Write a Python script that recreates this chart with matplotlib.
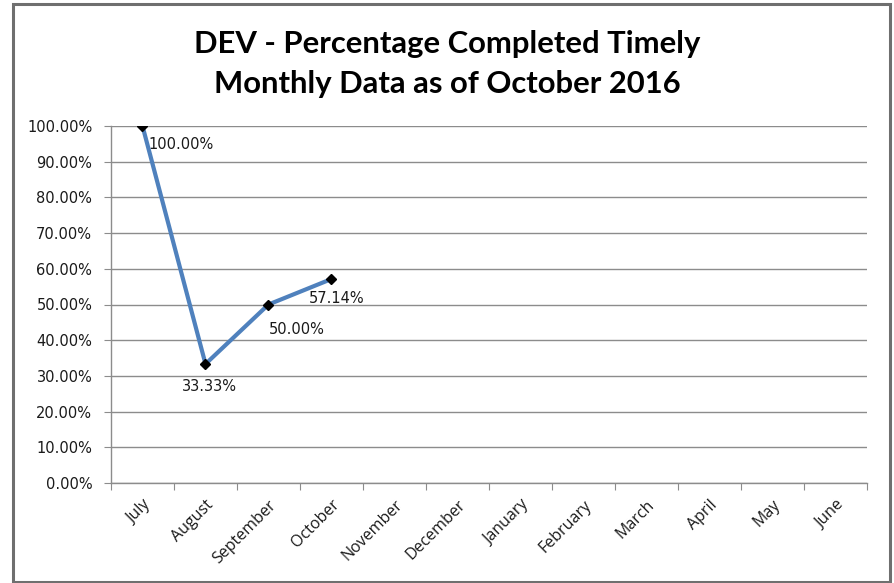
import matplotlib
matplotlib.use("Agg")
import matplotlib.pyplot as plt
import matplotlib.patches as mpatches
import numpy as np

months = ["July", "August", "September", "October", "November", "December",
          "January", "February", "March", "April", "May", "June"]
values = [1.0, 0.3333, 0.5, 0.5714]
value_labels = ["100.00%", "33.33%", "50.00%", "57.14%"]
yticks = [0.0, 0.1, 0.2, 0.3, 0.4, 0.5, 0.6, 0.7, 0.8, 0.9, 1.0]
title = "DEV - Percentage Completed Timely\nMonthly Data as of October 2016"

W, H = 895, 583
fig = plt.figure(figsize=(W / 100, H / 100), dpi=100)
ax = fig.add_axes([111 / W, 1 - 483 / H, (867 - 111) / W, (483 - 126) / H])

# outer chart frame
fig.patches.append(mpatches.Rectangle((13 / W, 1 - 582 / H), (890 - 13) / W, (582 - 4) / H,
                                      transform=fig.transFigure, fill=False,
                                      edgecolor="#6f6f6f", linewidth=2.2))

x = np.arange(len(values))
ax.plot(x, values, color="#4F81BD", linewidth=3, marker="D", markersize=5.5,
        markerfacecolor="black", markeredgecolor="black", zorder=3)

offsets = [(28, -13), (3, -16), (20, -18), (4, -14)]
for xi, v, lab, off in zip(x, values, value_labels, offsets):
    ax.annotate(lab, (xi, v), xytext=off, textcoords="offset points",
                ha="center", va="center", fontsize=10.5, color="#1a1a1a",
                family="DejaVu Sans")

ax.set_xlim(-0.5, len(months) - 0.5)
ax.set_ylim(0, 1.0)
ax.set_yticks(yticks)
ax.set_yticklabels([f"{t * 100:.2f}%" for t in yticks], fontsize=10.5, color="#1a1a1a")
ax.yaxis.grid(True, color="#8c8c8c", linewidth=1)
ax.set_axisbelow(True)

ax.set_xticks(np.arange(-0.5, len(months), 1.0))
ax.set_xticklabels([])
ax.set_xticks(np.arange(len(months)), minor=True)
ax.set_xticklabels(months, minor=True, rotation=45, ha="right", rotation_mode="anchor",
                   fontsize=11.5, family="Open Sans", color="#1a1a1a")
ax.tick_params(axis="x", which="minor", length=0, pad=10)
ax.tick_params(axis="x", which="major", length=5, color="#8c8c8c")
ax.tick_params(axis="y", length=5, color="#8c8c8c", pad=8.5)

for s in ["top", "right"]:
    ax.spines[s].set_visible(False)
for s in ["left", "bottom"]:
    ax.spines[s].set_color("#8c8c8c")
    ax.spines[s].set_linewidth(1)

fig.text(0.5, 1 - 64 / H, title, ha="center", va="center", fontsize=22.3,
         fontweight="bold", family="Lato", linespacing=1.5, color="black")

fig.savefig("out.png", dpi=100)
